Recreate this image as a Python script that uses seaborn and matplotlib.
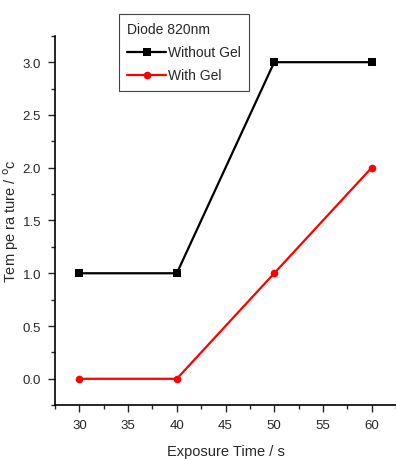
import matplotlib
matplotlib.use("Agg")
import matplotlib.pyplot as plt
import seaborn as sns
import pandas as pd
from matplotlib.ticker import MultipleLocator

# Dados
tempo = [30, 40, 50, 60]
sem_gel = [1.0, 1.0, 3.0, 3.0]
com_gel = [0.0, 0.0, 1.0, 2.0]
series = ["Without Gel", "With Gel"]

df = pd.DataFrame({
    "tempo": tempo * 2,
    "temp": sem_gel + com_gel,
    "serie": [series[0]] * len(tempo) + [series[1]] * len(tempo),
})

sns.set_style("ticks")
plt.rcParams["font.family"] = ["Liberation Sans", "DejaVu Sans"]

fig = plt.figure(figsize=(3.96, 4.60), dpi=100)
ax = fig.add_axes([0.139, 0.117, 0.861, 0.803])

sns.lineplot(
    data=df, x="tempo", y="temp", hue="serie", style="serie",
    palette={series[0]: "black", series[1]: "red"},
    markers={series[0]: "s", series[1]: "o"},
    dashes=False, linewidth=1.6, markersize=5.5, markeredgewidth=0,
    ax=ax,
)

ax.set_xlim(27.5, 62.5)
ax.set_ylim(-0.25, 3.25)
ax.xaxis.set_major_locator(MultipleLocator(5))
ax.xaxis.set_minor_locator(MultipleLocator(2.5))
ax.yaxis.set_major_locator(MultipleLocator(0.5))
ax.yaxis.set_minor_locator(MultipleLocator(0.25))
ax.yaxis.set_major_formatter(matplotlib.ticker.FormatStrFormatter("%.1f"))
ax.tick_params(which="major", length=5, width=1, labelsize=9.5, pad=5, direction="out")
ax.tick_params(which="minor", length=3, width=1, direction="out")
for s in ["top", "right"]:
    ax.spines[s].set_visible(False)
for s in ["left", "bottom"]:
    ax.spines[s].set_linewidth(1.2)
    ax.spines[s].set_color("black")

ax.set_xlabel("Exposure Time / s", fontsize=10.5)
ax.set_ylabel("Tem pe ra ture / $^{\\rm o}$c", fontsize=10.5)
ax.xaxis.set_label_coords(0.5, -0.105)
ax.yaxis.set_label_coords(-0.10, 0.5)

handles, labels = ax.get_legend_handles_labels()
leg = ax.legend(
    handles, labels, title="Diode 820nm", loc="upper left",
    bbox_to_anchor=(119 / 396, 1 - 15 / 460), bbox_transform=fig.transFigure,
    fontsize=10, title_fontsize=10, frameon=True, fancybox=False,
    edgecolor="#444444", framealpha=1, handlelength=2.8, handletextpad=0.1,
    borderaxespad=0, borderpad=0.6, labelspacing=0.65,
)
leg._legend_box.align = "left"
leg.get_frame().set_linewidth(0.8)

fig.savefig("out.png", dpi=100)
